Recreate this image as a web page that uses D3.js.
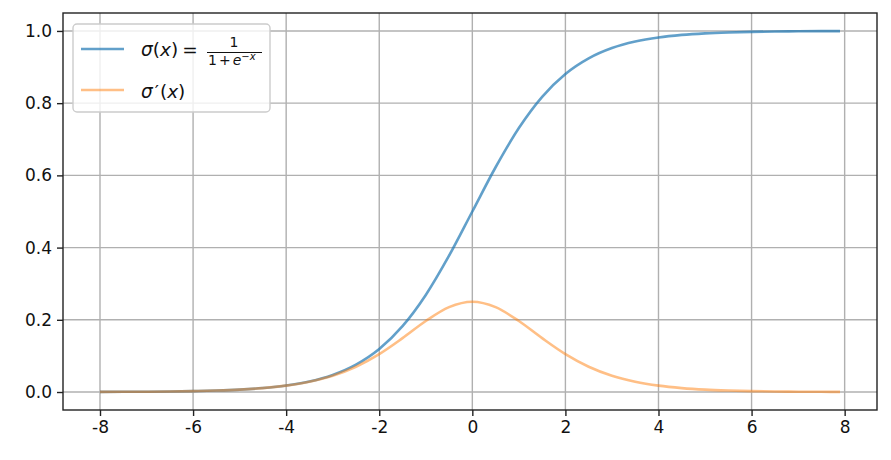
<!DOCTYPE html>
<html>
<head>
<meta charset="utf-8">
<script src="https://cdn.jsdelivr.net/npm/d3@7"></script>
<style>
  body { margin: 0; background: #fff; }
  svg { font-family: "DejaVu Sans", sans-serif; }
</style>
</head>
<body>
<svg id="chart" width="891" height="460"></svg>
<script>
// values
var xs = [-8, -7.5, -7, -6.5, -6, -5.5, -5, -4.5, -4, -3.5, -3, -2.5, -2, -1.5, -1, -0.5,
    0, 0.5, 1, 1.5, 2, 2.5, 3, 3.5, 4, 4.5, 5, 5.5, 6, 6.5, 7, 7.5, 7.9];
var sigma = [0.0003, 0.0006, 0.0009, 0.0015, 0.0025, 0.0041, 0.0067, 0.0110, 0.0180, 0.0293,
    0.0474, 0.0759, 0.1192, 0.1824, 0.2689, 0.3775, 0.5, 0.6225, 0.7311, 0.8176, 0.8808,
    0.9241, 0.9526, 0.9707, 0.9820, 0.9890, 0.9933, 0.9959, 0.9975, 0.9985, 0.9991, 0.9994, 0.9996];
var dsigma = [0.0003, 0.0006, 0.0009, 0.0015, 0.0025, 0.0041, 0.0066, 0.0109, 0.0177, 0.0285,
    0.0452, 0.0701, 0.1050, 0.1491, 0.1966, 0.2350, 0.25, 0.2350, 0.1966, 0.1491, 0.1050,
    0.0701, 0.0452, 0.0285, 0.0177, 0.0109, 0.0066, 0.0041, 0.0025, 0.0015, 0.0009, 0.0006, 0.0004];
var xTicks = [-8, -6, -4, -2, 0, 2, 4, 6, 8];
var yTicks = [0, 0.2, 0.4, 0.6, 0.8, 1.0];

var svg = d3.select("#chart"),
    plotLeft = 63, plotRight = 877, plotTop = 13, plotBottom = 410;

var x = d3.scaleLinear().domain([-8.795, 8.695]).range([plotLeft, plotRight]);
var y = d3.scaleLinear().domain([-0.0498, 1.0497]).range([plotBottom, plotTop]);

var g = svg.append("g");

// grid
g.selectAll("line.gx").data(xTicks).enter().append("line")
    .attr("x1", function (d) { return x(d); }).attr("x2", function (d) { return x(d); })
    .attr("y1", plotTop).attr("y2", plotBottom)
    .attr("stroke", "#b0b0b0").attr("stroke-width", 1.4);
g.selectAll("line.gy").data(yTicks).enter().append("line")
    .attr("y1", function (d) { return y(d); }).attr("y2", function (d) { return y(d); })
    .attr("x1", plotLeft).attr("x2", plotRight)
    .attr("stroke", "#b0b0b0").attr("stroke-width", 1.4);

// lines
var pts = function (vals) { return xs.map(function (v, i) { return [v, vals[i]]; }); };
var line = d3.line()
    .x(function (d) { return x(d[0]); })
    .y(function (d) { return y(d[1]); })
    .curve(d3.curveMonotoneX);

g.append("path").datum(pts(sigma))
    .attr("fill", "none").attr("stroke", "#1f77b4").attr("stroke-opacity", 0.7)
    .attr("stroke-width", 2.6).attr("d", line);
g.append("path").datum(pts(dsigma))
    .attr("fill", "none").attr("stroke", "#ff7f0e").attr("stroke-opacity", 0.5)
    .attr("stroke-width", 2.6).attr("d", line);

// axes
var xAxis = d3.axisBottom(x).tickValues(xTicks).tickSize(6).tickPadding(5)
    .tickFormat(function (d) { return String(d); });
var yAxis = d3.axisLeft(y).tickValues(yTicks).tickSize(6).tickPadding(5)
    .tickFormat(d3.format(".1f"));

var gx = svg.append("g").attr("transform", "translate(0," + plotBottom + ")").call(xAxis);
var gy = svg.append("g").attr("transform", "translate(" + plotLeft + ",0)").call(yAxis);
[gx, gy].forEach(function (a) {
    a.select(".domain").remove();
    a.selectAll(".tick line").attr("stroke", "#222").attr("stroke-width", 1.4);
    a.selectAll(".tick text").attr("fill", "#111").attr("font-size", 17)
        .attr("font-family", "DejaVu Sans");
});

svg.append("rect")
    .attr("x", plotLeft).attr("y", plotTop)
    .attr("width", plotRight - plotLeft).attr("height", plotBottom - plotTop)
    .attr("fill", "none").attr("stroke", "#222").attr("stroke-width", 1.4);

// legend
var lg = svg.append("g");
lg.append("rect")
    .attr("x", 73).attr("y", 24).attr("width", 197).attr("height", 88).attr("rx", 4)
    .attr("fill", "#fff").attr("fill-opacity", 0.8)
    .attr("stroke", "#cccccc").attr("stroke-width", 1.4);

lg.append("line").attr("x1", 81).attr("x2", 124).attr("y1", 49).attr("y2", 49)
    .attr("stroke", "#1f77b4").attr("stroke-opacity", 0.7).attr("stroke-width", 2.6);
lg.append("line").attr("x1", 81).attr("x2", 124).attr("y1", 90).attr("y2", 90)
    .attr("stroke", "#ff7f0e").attr("stroke-opacity", 0.5).attr("stroke-width", 2.6);

var t1 = lg.append("text").attr("x", 141).attr("y", 56).attr("font-size", 18.5).attr("fill", "#111");
t1.append("tspan").attr("font-style", "italic").text("σ");
t1.append("tspan").text("(");
t1.append("tspan").attr("font-style", "italic").text("x");
t1.append("tspan").text(")");
t1.append("tspan").attr("dx", 4).text("=");

lg.append("text").attr("x", 234).attr("y", 47).attr("font-size", 14)
    .attr("text-anchor", "middle").attr("fill", "#111").text("1");
lg.append("line").attr("x1", 207).attr("x2", 262).attr("y1", 52.5).attr("y2", 52.5)
    .attr("stroke", "#111").attr("stroke-width", 1);
var den = lg.append("text").attr("x", 208).attr("y", 65).attr("font-size", 14).attr("fill", "#111");
den.append("tspan").text("1");
den.append("tspan").attr("dx", 2).text("+");
den.append("tspan").attr("dx", 2).attr("font-style", "italic").text("e");
den.append("tspan").attr("dy", -5).attr("font-size", 10).text("−");
den.append("tspan").attr("font-size", 10).attr("font-style", "italic").text("x");

var t2 = lg.append("text").attr("x", 141).attr("y", 98).attr("font-size", 18.5).attr("fill", "#111");
t2.append("tspan").attr("font-style", "italic").text("σ");
t2.append("tspan").attr("dx", 2).text("′");
t2.append("tspan").attr("dx", 1).text("(");
t2.append("tspan").attr("font-style", "italic").text("x");
t2.append("tspan").text(")");
</script>
</body>
</html>
